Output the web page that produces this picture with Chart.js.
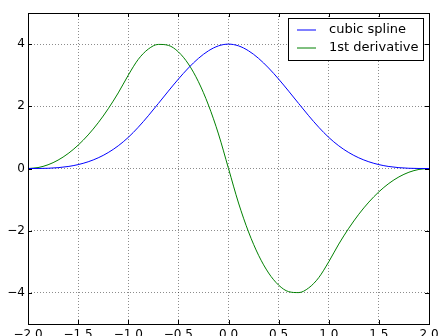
<!DOCTYPE html>
<html>
<head>
<meta charset="utf-8">
<script src="https://cdn.jsdelivr.net/npm/chart.js@4/dist/chart.umd.min.js"></script>
<style>
  html, body { margin: 0; padding: 0; background: #fff; }
  #wrap { width: 439px; height: 336px; }
</style>
</head>
<body>
<div id="wrap"><canvas id="c" width="439" height="336"></canvas></div>
<script>
const xValues = [-2.0,-1.9,-1.8,-1.7,-1.6,-1.5,-1.4,-1.3,-1.2,-1.1,-1.0,-0.9,-0.8,-0.7,-0.6,-0.5,-0.4,-0.3,-0.2,-0.1,0.0,
                 0.1,0.2,0.3,0.4,0.5,0.6,0.7,0.8,0.9,1.0,1.1,1.2,1.3,1.4,1.5,1.6,1.7,1.8,1.9,2.0];
const splineValues = [0,0.001,0.008,0.027,0.064,0.125,0.216,0.343,0.512,0.729,1.0,1.327,1.696,2.089,2.488,2.875,3.232,3.541,3.784,3.943,4.0,
                      3.943,3.784,3.541,3.232,2.875,2.488,2.089,1.696,1.327,1.0,0.729,0.512,0.343,0.216,0.125,0.064,0.027,0.008,0.001,0];
const derivValues = [0,0.03,0.12,0.27,0.48,0.75,1.08,1.47,1.92,2.43,3.0,3.51,3.84,3.99,3.96,3.75,3.36,2.79,2.04,1.11,0,
                     -1.11,-2.04,-2.79,-3.36,-3.75,-3.96,-3.99,-3.84,-3.51,-3.0,-2.43,-1.92,-1.47,-1.08,-0.75,-0.48,-0.27,-0.12,-0.03,0];
const seriesNames = ['cubic spline', '1st derivative'];
const seriesColors = ['#0000ff', '#008000'];
const xTicks = [-2.0,-1.5,-1.0,-0.5,0.0,0.5,1.0,1.5,2.0];
const yTicks = [-4,-2,0,2,4];

const fmt = (v, d) => (v < 0 ? '\u2212' : '') + Math.abs(v).toFixed(d);

const frame = {
  id: 'frame',
  afterDatasetsDraw(chart) {
    const ctx = chart.ctx, a = chart.chartArea;
    const xs = chart.scales.x, ys = chart.scales.y;
    ctx.save();
    ctx.strokeStyle = '#000';
    ctx.lineWidth = 1;
    ctx.beginPath();
    xTicks.forEach(v => {
      const px = Math.round(xs.getPixelForValue(v)) + 0.5;
      ctx.moveTo(px, a.bottom); ctx.lineTo(px, a.bottom - 4);
      ctx.moveTo(px, a.top); ctx.lineTo(px, a.top + 4);
    });
    yTicks.forEach(v => {
      const py = Math.round(ys.getPixelForValue(v)) + 0.5;
      ctx.moveTo(a.left, py); ctx.lineTo(a.left + 4, py);
      ctx.moveTo(a.right, py); ctx.lineTo(a.right - 4, py);
    });
    ctx.stroke();
    ctx.strokeRect(Math.round(a.left) + 0.5, Math.round(a.top) + 0.5,
                   Math.round(a.right - a.left), Math.round(a.bottom - a.top));
    // legend
    const lx = 288.5, ly = 18.5, lw = 135, lh = 42;
    ctx.fillStyle = '#fff';
    ctx.fillRect(lx, ly, lw, lh);
    ctx.strokeStyle = '#000';
    ctx.strokeRect(lx, ly, lw, lh);
    ctx.font = '13px "DejaVu Sans"';
    ctx.textBaseline = 'middle';
    seriesNames.forEach((n, i) => {
      const y = 30 + i * 18;
      ctx.strokeStyle = seriesColors[i];
      ctx.lineWidth = 1;
      ctx.beginPath();
      ctx.moveTo(297, y); ctx.lineTo(316, y);
      ctx.stroke();
      ctx.fillStyle = '#000';
      ctx.fillText(n, 329, y);
    });
    ctx.restore();
  }
};

new Chart(document.getElementById('c'), {
  type: 'line',
  data: {
    labels: xValues,
    datasets: [
      { label: seriesNames[0], data: xValues.map((x, i) => ({x, y: splineValues[i]})), borderColor: seriesColors[0], borderWidth: 1, pointRadius: 0, cubicInterpolationMode: 'monotone', fill: false },
      { label: seriesNames[1], data: xValues.map((x, i) => ({x, y: derivValues[i]})), borderColor: seriesColors[1], borderWidth: 1, pointRadius: 0, cubicInterpolationMode: 'monotone', fill: false }
    ]
  },
  options: {
    responsive: false,
    animation: false,
    devicePixelRatio: 1,
    layout: { padding: { top: 13, right: 10, left: 0, bottom: 0 } },
    plugins: { legend: { display: false }, tooltip: { enabled: false } },
    scales: {
      x: {
        type: 'linear', min: -2, max: 2,
        afterBuildTicks: s => { s.ticks = xTicks.map(v => ({ value: v })); },
        afterFit: s => { s.height = 12; s.paddingLeft = 0; s.paddingRight = 0; },
        ticks: { callback: v => fmt(v, 1), color: '#000', font: { family: 'DejaVu Sans', size: 12 }, padding: 4, maxRotation: 0, autoSkip: false },
        grid: { color: 'rgba(0,0,0,0.45)', lineWidth: 1, drawTicks: false },
        border: { display: false, dash: [1, 2] }
      },
      y: {
        type: 'linear', min: -5, max: 5,
        afterBuildTicks: s => { s.ticks = yTicks.map(v => ({ value: v })); },
        afterFit: s => { s.width = 28; s.paddingTop = 0; s.paddingBottom = 0; },
        ticks: { callback: v => fmt(v, 0), color: '#000', font: { family: 'DejaVu Sans', size: 12 }, padding: 3 },
        grid: { color: 'rgba(0,0,0,0.45)', lineWidth: 1, drawTicks: false },
        border: { display: false, dash: [1, 2] }
      }
    }
  },
  plugins: [frame]
});
</script>
</body>
</html>
